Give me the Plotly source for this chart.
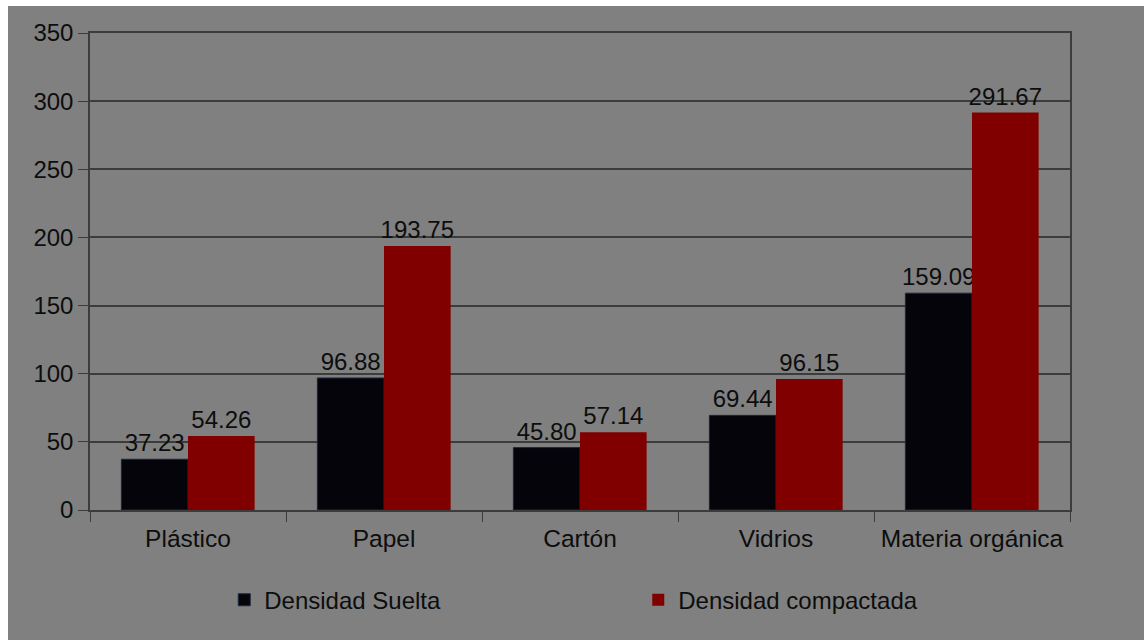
import plotly.graph_objects as go

categories = ["Plástico", "Papel", "Cartón", "Vidrios", "Materia orgánica"]
densidad_suelta = [37.23, 96.88, 45.80, 69.44, 159.09]
densidad_compactada = [54.26, 193.75, 57.14, 96.15, 291.67]
y_ticks = [0, 50, 100, 150, 200, 250, 300, 350]

FONT = "Liberation Sans"
GRAY = "#808080"
DARK = "#3c3c3c"
INK = "#0d0d0d"

fig = go.Figure()
fig.add_trace(go.Bar(
    name="Densidad Suelta", x=categories, y=densidad_suelta,
    marker=dict(color="#04040a", line=dict(color="#1a2a40", width=1)),
    texttemplate="%{y:.2f}", textposition="outside", cliponaxis=False,
    constraintext="none",
    textfont=dict(family=FONT, size=24, color=INK),
))
fig.add_trace(go.Bar(
    name="Densidad compactada", x=categories, y=densidad_compactada,
    marker=dict(color="#800000", line=dict(width=0)),
    texttemplate="%{y:.2f}", textposition="outside", cliponaxis=False,
    constraintext="none",
    textfont=dict(family=FONT, size=24, color=INK),
))

fig.update_layout(
    width=1144, height=640,
    margin=dict(l=90, r=74, t=33, b=130),
    paper_bgcolor=GRAY, plot_bgcolor=GRAY,
    barmode="group", bargap=0.32, bargroupgap=0,
    font=dict(family=FONT, size=24, color=INK),
    showlegend=True,
    legend=dict(
        orientation="h", x=0.137, xanchor="left", y=-0.189, yanchor="middle",
        bgcolor="rgba(0,0,0,0)", font=dict(family=FONT, size=24, color=INK),
        entrywidth=369, entrywidthmode="pixels", itemwidth=30,
    ),
    shapes=[
        dict(type="rect", xref="paper", yref="paper", x0=-0.2, x1=1.2,
             y0=(510 - 6) / 477, y1=1.2, fillcolor="white", line_width=0, layer="above"),
        dict(type="rect", xref="paper", yref="paper", x0=-0.2, x1=(8 - 90) / 980,
             y0=-0.5, y1=1.2, fillcolor="white", line_width=0, layer="above"),
    ],
)

fig.update_yaxes(
    range=[0, 350], tickvals=y_ticks, ticks="outside", ticklen=10, tickcolor=DARK,
    showgrid=True, gridcolor=DARK, gridwidth=1.5, zeroline=False,
    showline=True, linecolor=DARK, linewidth=1.5, mirror=True,
    tickfont=dict(family=FONT, size=24, color=INK),
)
fig.update_xaxes(
    ticks="outside", tickson="boundaries", ticklen=10, tickcolor=DARK,
    showline=True, linecolor=DARK, linewidth=2, mirror=True,
    ticklabelstandoff=6,
    tickfont=dict(family=FONT, size=24.5, color=INK),
)

fig.write_html("out.html")
